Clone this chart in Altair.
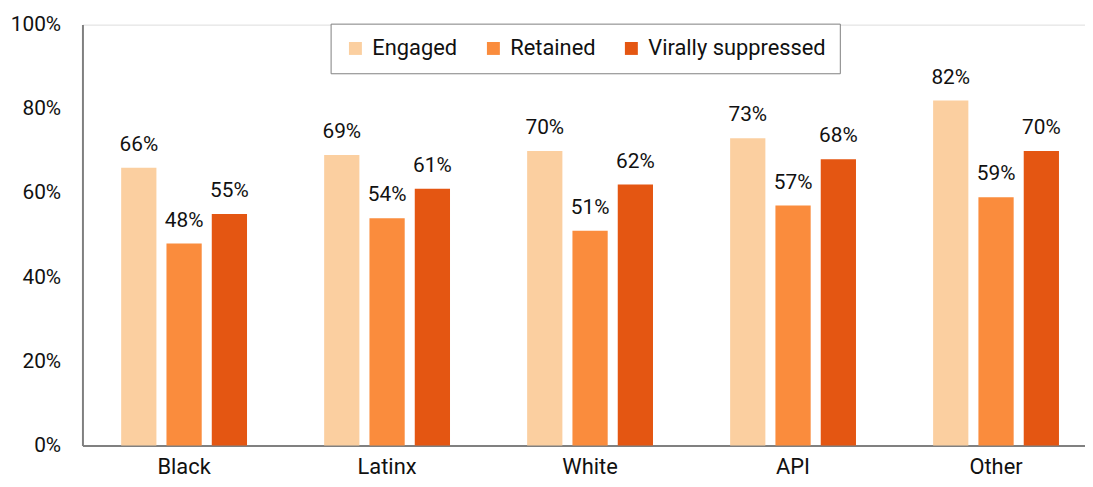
import altair as alt
import pandas as pd

groups = ["Black", "Latinx", "White", "API", "Other"]
series = ["Engaged", "Retained", "Virally suppressed"]
engaged = [66, 69, 70, 73, 82]
retained = [48, 54, 51, 57, 59]
suppressed = [55, 61, 62, 68, 70]
colors = ["#FBCFA0", "#FA8C3D", "#E45612"]

rows = []
for i, g in enumerate(groups):
    for s, vals in zip(series, [engaged, retained, suppressed]):
        rows.append({"group": g, "series": s, "value": vals[i] / 100.0})
df = pd.DataFrame(rows)

FONT = "Roboto"
TXT = "#111111"

x = alt.X("group:N", sort=groups, title=None,
          scale=alt.Scale(paddingInner=0.38, paddingOuter=0.1595, align=0.598),
          axis=alt.Axis(labelAngle=0, labelFontSize=22, labelFont=FONT, labelColor=TXT,
                        labelPadding=11, ticks=False, domainColor="#808080", domainWidth=2))
xoff = alt.XOffset("series:N", sort=series,
                   scale=alt.Scale(paddingInner=0.222, paddingOuter=0))
y = alt.Y("value:Q", title=None,
          scale=alt.Scale(domain=[0, 1]),
          axis=alt.Axis(format=".0%", values=[0, 0.2, 0.4, 0.6, 0.8, 1.0], grid=False,
                        ticks=False, labelFontSize=21, labelFont=FONT, labelColor=TXT,
                        labelPadding=22, domainColor="#808080", domainWidth=2))

color = alt.Color("series:N", sort=series,
                  scale=alt.Scale(domain=series, range=colors),
                  legend=alt.Legend(title=None, orient="none", direction="horizontal",
                                    legendX=250, legendY=-1, padding=14,
                                    strokeColor="#808080", fillColor="white",
                                    symbolType="square", symbolSize=170, symbolStrokeWidth=0,
                                    labelFontSize=22, labelFont=FONT, labelColor=TXT,
                                    labelLimit=400, labelOffset=6, columnPadding=25))

bars = alt.Chart(df).mark_bar().encode(x=x, xOffset=xoff, y=y, color=color)
labels = alt.Chart(df).mark_text(baseline="alphabetic", dy=-17, fontSize=21, font=FONT,
                                 color=TXT).encode(
    x=x, xOffset=xoff, y=y, text=alt.Text("value:Q", format=".0%"))

chart = (bars + labels).properties(
    width=1010, height=424,
    autosize=alt.AutoSizeParams(type="none"),
    padding={"left": 75, "top": 15, "right": 0, "bottom": 32},
).configure_view(stroke=None).configure(background="white")

chart.save("out.html", embed_options={"renderer": "svg", "actions": False})
